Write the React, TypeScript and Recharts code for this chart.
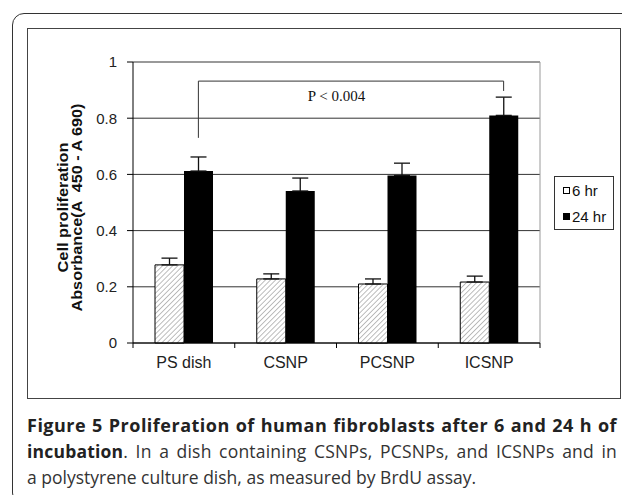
import React from "react";
import {
  BarChart,
  Bar,
  XAxis,
  YAxis,
  CartesianGrid,
  ErrorBar,
  ReferenceLine,
  Legend,
} from "recharts";

// values
const categories = ["PS dish", "CSNP", "PCSNP", "ICSNP"];
const seriesNames = ["6 hr", "24 hr"];
const hr6 = [0.278, 0.228, 0.21, 0.217];
const hr6Err = [0.024, 0.018, 0.018, 0.021];
const hr24 = [0.612, 0.541, 0.596, 0.81];
const hr24Err = [0.05, 0.046, 0.044, 0.065];
const yTicks = [0, 0.2, 0.4, 0.6, 0.8, 1];

// significance bracket between PS dish and ICSNP (24 hr bars)
const bracketFrom = "PS dish";
const bracketTo = "ICSNP";
const bracketTop = 0.932;
const bracketLeftEnd = 0.73;
const bracketRightEnd = 0.897;
const pLabel = "P < 0.004";
const pLabelY = 0.88;

const captionLines = [
  "In a dish containing CSNPs, PCSNPs, and ICSNPs and in",
  "a polystyrene culture dish, as measured by BrdU assay.",
];

const data = categories.map((name, i) => ({
  name,
  h6: hr6[i],
  h6e: [0, hr6Err[i]],
  h24: hr24[i],
  h24e: [0, hr24Err[i]],
}));

const BAR = 29;
const SANS = "'Liberation Sans', Arial, sans-serif";

// bracket lines sit on the centre of the black (second) bar
const BracketLine = (props: any) => (
  <line
    x1={props.x1 + BAR / 2}
    y1={props.y1}
    x2={props.x2 + BAR / 2}
    y2={props.y2}
    stroke="#333"
    strokeWidth={1}
  />
);

const XTick = (props: any) => {
  const { x, y, payload, index } = props;
  const half = payload.offset || 0;
  return (
    <g>
      <line x1={x - half} x2={x - half} y1={y} y2={y + 5} stroke="#000" />
      {index === categories.length - 1 && (
        <line x1={x + half} x2={x + half} y1={y} y2={y + 5} stroke="#000" />
      )}
      <text x={x} y={y + 25} textAnchor="middle" fontSize={16} fill="#222" fontFamily={SANS}>
        {payload.value}
      </text>
    </g>
  );
};

const YLabel = (props: any) => {
  const { x, y, height } = props.viewBox;
  const cy = y + height / 2 + 5;
  const common = {
    textAnchor: "middle" as const,
    dominantBaseline: "central" as const,
    fontSize: 14,
    fontWeight: "bold" as const,
    fontFamily: SANS,
    fill: "#111",
    lengthAdjust: "spacingAndGlyphs",
  };
  return (
    <g>
      <text transform={`translate(${x + 33},${cy}) rotate(-90)`} {...common} textLength={130}>
        Cell proliferation
      </text>
      <text
        transform={`translate(${x + 47},${cy}) rotate(-90)`}
        {...common}
        textLength={208}
        style={{ whiteSpace: "pre" }}
      >
        {"Absorbance(A  450 - A 690)"}
      </text>
    </g>
  );
};

const LegendBox = (props: any) => {
  const items = [...(props.payload || [])].sort(
    (a: any, b: any) => seriesNames.indexOf(a.value) - seriesNames.indexOf(b.value)
  );
  return (
    <div
      style={{
        width: 60,
        height: 54,
        border: "1px solid #333",
        boxSizing: "border-box",
        background: "#fff",
        fontFamily: SANS,
        fontSize: 15,
        color: "#111",
      }}
    >
      {items.map((it: any, i: number) => (
        <div key={i} style={{ height: 26, display: "flex", alignItems: "center" }}>
          <span
            style={{
              display: "inline-block",
              width: 7,
              height: 7,
              marginLeft: 8,
              marginRight: 2,
              border: "1px solid #000",
              boxSizing: "border-box",
              background: i === 0 ? "#fff" : "#000",
            }}
          />
          <span>{it.value}</span>
        </div>
      ))}
    </div>
  );
};

export default function App() {
  return (
    <div
      style={{
        position: "absolute",
        left: 0,
        top: 0,
        width: 622,
        height: 495,
        overflow: "hidden",
        background: "#fff",
      }}
    >
      <div
        style={{
          position: "absolute",
          left: 12,
          top: 13,
          width: 700,
          height: 490,
          border: "1.5px solid #333",
          borderRadius: 12,
        }}
      />
      <div
        style={{
          position: "absolute",
          left: 27,
          top: 28,
          width: 594,
          height: 371,
          border: "1px solid #444",
          boxSizing: "border-box",
        }}
      />
      <div style={{ position: "absolute", left: 0, top: 0 }}>
        <BarChart
          width={622}
          height={400}
          data={data}
          margin={{ top: 62, right: 82, left: 30, bottom: 27 }}
          barGap={0}
        >
          <defs>
            <pattern
              id="hatch"
              width="3.6"
              height="3.6"
              patternUnits="userSpaceOnUse"
              patternTransform="rotate(45)"
            >
              <rect width="3.6" height="3.6" fill="#fff" />
              <line x1="0" y1="0" x2="0" y2="3.6" stroke="#888" strokeWidth="1.1" />
            </pattern>
          </defs>
          <CartesianGrid vertical={false} stroke="#333" />
          <XAxis
            dataKey="name"
            axisLine={{ stroke: "#000" }}
            tickLine={false}
            tickSize={0}
            tickMargin={0}
            height={30}
            interval={0}
            tick={<XTick />}
          />
          <YAxis
            width={103}
            domain={[0, 1]}
            ticks={yTicks}
            axisLine={{ stroke: "#000" }}
            tickLine={{ stroke: "#000" }}
            tickSize={6}
            tickMargin={10}
            tick={{ fill: "#222", fontSize: 15, fontFamily: SANS }}
            label={{ content: <YLabel /> }}
          />
          <ReferenceLine y={1} stroke="#999" />
          <ReferenceLine x={categories[categories.length - 1]} position="end" stroke="#999" />
          <Bar
            dataKey="h6"
            name={seriesNames[0]}
            fill="url(#hatch)"
            stroke="#000"
            strokeWidth={1}
            barSize={BAR}
            isAnimationActive={false}
          >
            <ErrorBar dataKey="h6e" width={8} stroke="#111" strokeWidth={1.3} isAnimationActive={false} />
          </Bar>
          <Bar
            dataKey="h24"
            name={seriesNames[1]}
            fill="#000"
            barSize={BAR}
            isAnimationActive={false}
          >
            <ErrorBar dataKey="h24e" width={8} stroke="#111" strokeWidth={1.3} isAnimationActive={false} />
          </Bar>
          <ReferenceLine
            segment={[
              { x: bracketFrom, y: bracketLeftEnd },
              { x: bracketFrom, y: bracketTop },
            ]}
            shape={BracketLine}
          />
          <ReferenceLine
            segment={[
              { x: bracketFrom, y: bracketTop },
              { x: bracketTo, y: bracketTop },
            ]}
            shape={BracketLine}
          />
          <ReferenceLine
            segment={[
              { x: bracketTo, y: bracketTop },
              { x: bracketTo, y: bracketRightEnd },
            ]}
            shape={BracketLine}
          />
          <ReferenceLine
            segment={[
              { x: categories[1], y: pLabelY },
              { x: categories[2], y: pLabelY },
            ]}
            stroke="none"
            label={{
              value: pLabel,
              position: "center",
              fill: "#111",
              fontSize: 15,
              fontFamily: "'Liberation Serif', 'Times New Roman', serif",
            }}
          />
          <Legend
            layout="vertical"
            align="center"
            verticalAlign="middle"
            content={<LegendBox />}
            wrapperStyle={{ left: 554, top: 176, width: 60 }}
          />
        </BarChart>
      </div>
      <div
        style={{
          position: "absolute",
          left: 27,
          top: 412,
          width: 590,
          fontFamily: "'Open Sans', sans-serif",
          fontSize: 17.5,
          lineHeight: "26px",
          color: "#333",
        }}
      >
        <div style={{ textAlign: "justify", textAlignLast: "justify", whiteSpace: "nowrap", fontWeight: "bold", color: "#222", fontSize: 18, letterSpacing: 0.5 }}>
          Figure 5 Proliferation of human fibroblasts after 6 and 24 h of
        </div>
        <div style={{ textAlign: "justify", textAlignLast: "justify", letterSpacing: 0.2 }}>
          <b style={{ color: "#222" }}>incubation</b>. {captionLines[0]}
        </div>
        <div>{captionLines[1]}</div>
      </div>
    </div>
  );
}
